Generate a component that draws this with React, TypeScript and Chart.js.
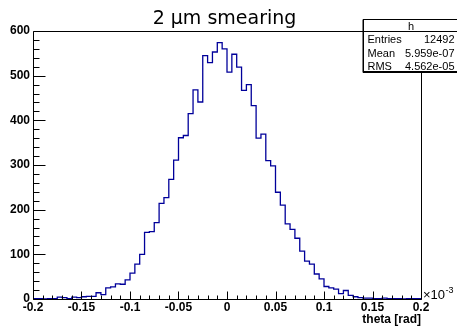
import React, { useEffect, useRef } from 'react';
import { Chart, registerables } from 'chart.js';

Chart.register(...registerables);

const TITLE = '2 μm smearing';
const X_TITLE = 'theta [rad]';
const X_EXPONENT = ['×10', '-3'];
const X_MIN = -0.2;
const X_MAX = 0.2;
const BIN_WIDTH = 0.005;
const X_STEP = 0.05;
const Y_MIN = 0;
const Y_MAX = 600;
const Y_STEP = 100;

// counts per bin (80 bins of 0.005 from -0.2 to 0.2)
const COUNTS = [
  1, 1, 1, 0, 1, 1, 4, 3, 1, 4, 3, 5, 6, 6, 14, 10,
  25, 27, 34, 33, 43, 58, 78, 100, 149, 151, 171, 214, 227, 268, 311, 361,
  366, 415, 468, 441, 545, 529, 553, 574, 560, 508, 548, 519, 467, 480, 433, 360,
  369, 310, 298, 239, 210, 168, 156, 136, 107, 85, 78, 56, 45, 28, 25, 22,
  12, 19, 8, 5, 3, 2, 2, 1, 1, 2, 1, 1, 1, 0, 1, 1,
];

const STATS_NAME = 'h';
const STATS_LABELS = ['Entries', 'Mean', 'RMS'];
const STATS_VALUES = ['12492', '5.959e-07', '4.562e-05'];

const LINE_COLOR = '#00009a';
const TICK_FONT = 'bold 12px "Liberation Sans", Arial, sans-serif';

const rootDecor = {
  id: 'rootDecor',
  afterDraw(chart: any) {
    const { ctx, chartArea: a, scales } = chart;
    const xs = scales.x;
    const ys = scales.y;
    ctx.save();
    ctx.strokeStyle = '#000';
    ctx.lineWidth = 1;
    const L = Math.round(a.left) + 0.5;
    const T = Math.round(a.top) + 0.5;
    const R = Math.round(a.right) + 0.5;
    const B = Math.round(a.bottom) + 0.5;
    ctx.beginPath();
    ctx.moveTo(L, T); ctx.lineTo(R, T); ctx.lineTo(R, B); ctx.lineTo(L, B); ctx.closePath();
    ctx.stroke();

    // inward y ticks
    ctx.beginPath();
    const yMinorStep = Y_STEP / 5;
    for (let i = 0; i <= (Y_MAX - Y_MIN) / yMinorStep; i++) {
      const v = Y_MIN + i * yMinorStep;
      const y = Math.round(ys.getPixelForValue(v)) + 0.5;
      const len = i % 5 === 0 ? 12 : 6;
      ctx.moveTo(L, y);
      ctx.lineTo(L + len, y);
    }
    // inward x ticks
    const nx = Math.round((X_MAX - X_MIN) / (X_STEP / 5));
    for (let i = 0; i <= nx; i++) {
      const v = X_MIN + i * (X_STEP / 5);
      const x = Math.round(xs.getPixelForValue(v)) + 0.5;
      const len = i % 5 === 0 ? 8 : 4;
      ctx.moveTo(x, B);
      ctx.lineTo(x, B - len);
    }
    ctx.stroke();

    // title
    ctx.fillStyle = '#000';
    ctx.font = '19px "DejaVu Sans", sans-serif';
    ctx.textAlign = 'center';
    ctx.textBaseline = 'alphabetic';
    ctx.fillText(TITLE, 224.5, 24);

    // x axis title
    ctx.font = TICK_FONT;
    ctx.textAlign = 'right';
    ctx.fillText(X_TITLE, a.right, 323);

    // exponent
    ctx.textAlign = 'left';
    ctx.font = '13px "Liberation Sans", Arial, sans-serif';
    ctx.fillText(X_EXPONENT[0], a.right + 2, 299);
    const w = ctx.measureText(X_EXPONENT[0]).width;
    ctx.font = '9px "Liberation Sans", Arial, sans-serif';
    ctx.fillText(X_EXPONENT[1], a.right + 2 + w + 0.5, 293);

    // stats box
    const bx = 363.5, by = 19.5, bw = 100, bh = 52;
    ctx.fillStyle = '#fff';
    ctx.fillRect(bx, by, bw, bh);
    ctx.strokeStyle = '#000';
    ctx.lineWidth = 1;
    ctx.strokeRect(bx, by, bw, bh);
    ctx.beginPath();
    ctx.moveTo(bx - 0.5, by); ctx.lineTo(bx - 0.5, by + bh + 1);
    ctx.lineTo(bx + bw, by + bh + 1);
    ctx.stroke();
    ctx.beginPath();
    ctx.moveTo(bx, 31.5); ctx.lineTo(bx + bw, 31.5);
    ctx.stroke();
    ctx.fillStyle = '#000';
    ctx.font = '11px "Liberation Sans", Arial, sans-serif';
    ctx.textAlign = 'center';
    ctx.fillText(STATS_NAME, 411, 30);
    const rowsY = [43, 57, 70];
    STATS_LABELS.forEach((lab, i) => {
      ctx.textAlign = 'left';
      ctx.fillText(lab, 367.5, rowsY[i]);
      ctx.textAlign = 'right';
      ctx.fillText(STATS_VALUES[i], 454.5, rowsY[i]);
    });
    ctx.restore();
  },
};

export default function App() {
  const ref = useRef<HTMLCanvasElement | null>(null);
  useEffect(() => {
    if (!ref.current) return;
    const pts = COUNTS.map((c, i) => ({ x: X_MIN + i * BIN_WIDTH, y: c }));
    pts.push({ x: X_MAX, y: COUNTS[COUNTS.length - 1] });
    const chart = new Chart(ref.current, {
      type: 'line',
      data: {
        datasets: [
          {
            data: pts,
            stepped: 'after',
            borderColor: LINE_COLOR,
            borderWidth: 1.3,
            pointRadius: 0,
            fill: false,
          },
        ],
      },
      options: {
        responsive: false,
        animation: false,
        events: [],
        layout: { padding: { left: 0, top: 31, right: 36, bottom: 0 } },
        plugins: { legend: { display: false }, tooltip: { enabled: false }, title: { display: false } },
        scales: {
          x: {
            type: 'linear',
            min: X_MIN,
            max: X_MAX,
            grid: { display: false, drawTicks: false },
            border: { display: false },
            ticks: {
              stepSize: X_STEP,
              padding: 1,
              color: '#000',
              maxRotation: 0,
              autoSkip: false,
              font: { family: '"Liberation Sans", Arial, sans-serif', size: 12, weight: 'bold' },
              callback: (v: any) => String(Number(Number(v).toFixed(3))),
            },
            afterFit: (s: any) => { s.height = 27; },
          },
          y: {
            type: 'linear',
            min: Y_MIN,
            max: Y_MAX,
            grid: { display: false, drawTicks: false },
            border: { display: false },
            ticks: {
              stepSize: Y_STEP,
              padding: 3,
              color: '#000',
              font: { family: '"Liberation Sans", Arial, sans-serif', size: 12, weight: 'bold' },
            },
            afterFit: (s: any) => { s.width = 33; },
          },
        },
      },
      plugins: [rootDecor],
    });
    return () => chart.destroy();
  }, []);
  return (
    <div style={{ position: 'absolute', left: 0, top: 0, width: 457, height: 326, background: '#fff' }}>
      <canvas ref={ref} width={457} height={326} />
    </div>
  );
}
